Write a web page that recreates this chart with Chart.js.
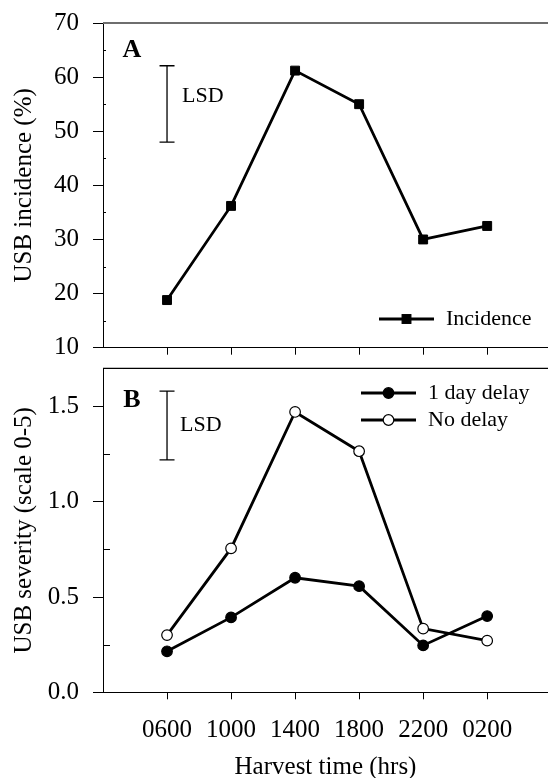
<!DOCTYPE html>
<html>
<head>
<meta charset="utf-8">
<script src="https://cdn.jsdelivr.net/npm/chart.js@4.4.0/dist/chart.umd.min.js"></script>
<style>
  html, body { margin: 0; padding: 0; background: #fff; overflow: hidden; }
  #wrap { position: relative; width: 548px; height: 778px; }
  canvas { position: absolute; left: 0; }
  #chartA { top: 0; }
  #chartB { top: 360px; }
</style>
</head>
<body>
<div id="wrap">
  <canvas id="chartA" width="548" height="360"></canvas>
  <canvas id="chartB" width="548" height="418"></canvas>
</div>
<script>
// Harvest time categories and measured values
const harvestTimes = ['0600', '1000', '1400', '1800', '2200', '0200'];
const incidence = [18.8, 36.2, 61.2, 55.0, 30.0, 32.5];
const severityDelay = [0.215, 0.393, 0.601, 0.557, 0.246, 0.40];
const severityNoDelay = [0.30, 0.755, 1.471, 1.265, 0.334, 0.271];

// Least significant difference bars (low, high)
const lsdIncidence = [48.0, 62.1];
const lsdSeverity = [1.22, 1.58];

// Axis ticks
const incidenceTicks = [10, 20, 30, 40, 50, 60, 70];
const incidenceMinor = [15, 25, 35, 45, 55, 65];
const severityTicks = [0, 0.5, 1.0, 1.5];
const severityMinor = [0.25, 0.75, 1.25];

const serif = "'Liberation Serif', 'Times New Roman', serif";

function toXY(values) {
  return values.map((v, i) => ({ x: i, y: v }));
}

// Draws the panel letter, top frame line, inward minor ticks, LSD bar and legend
const panelDecor = {
  id: 'panelDecor',
  afterDraw(chart, args, opts) {
    const { ctx, chartArea: area, scales } = chart;
    const xs = scales.x, ys = scales.y;
    ctx.save();

    // top frame line
    ctx.strokeStyle = opts.topColor;
    ctx.lineWidth = opts.topWidth;
    ctx.beginPath();
    ctx.moveTo(area.left, area.top);
    ctx.lineTo(area.right, area.top);
    ctx.stroke();

    // inward minor ticks
    ctx.strokeStyle = '#000';
    ctx.lineWidth = 1;
    opts.minor.forEach(v => {
      const y = Math.round(ys.getPixelForValue(v)) + 0.5;
      ctx.beginPath();
      ctx.moveTo(area.left, y);
      ctx.lineTo(area.left + opts.minorLen, y);
      ctx.stroke();
    });

    // panel letter
    ctx.fillStyle = '#000';
    ctx.font = 'bold 26px ' + serif;
    ctx.textAlign = 'center';
    ctx.textBaseline = 'middle';
    ctx.fillText(opts.letter, opts.letterX, opts.letterY);

    // LSD bar
    const lx = xs.getPixelForValue(0);
    const y0 = ys.getPixelForValue(opts.lsd[0]);
    const y1 = ys.getPixelForValue(opts.lsd[1]);
    ctx.lineWidth = 1.3;
    ctx.beginPath();
    ctx.moveTo(lx, y0); ctx.lineTo(lx, y1);
    ctx.moveTo(lx - 7.5, y0); ctx.lineTo(lx + 7.5, y0);
    ctx.moveTo(lx - 7.5, y1); ctx.lineTo(lx + 7.5, y1);
    ctx.stroke();
    ctx.font = '22px ' + serif;
    ctx.textAlign = 'left';
    ctx.fillText('LSD', lx + opts.lsdTextDx, (y0 + y1) / 2 + opts.lsdTextDy);

    // legend: line with marker, then label
    chart.data.datasets.forEach((ds, i) => {
      const y = opts.legendY + i * opts.legendGap;
      const x0 = opts.legendX, x1 = x0 + 55, xm = (x0 + x1) / 2;
      ctx.strokeStyle = ds.borderColor;
      ctx.lineWidth = ds.borderWidth;
      ctx.beginPath();
      ctx.moveTo(x0, y); ctx.lineTo(x1, y);
      ctx.stroke();
      ctx.fillStyle = ds.pointBackgroundColor;
      ctx.strokeStyle = ds.pointBorderColor;
      ctx.lineWidth = ds.pointBorderWidth;
      if (ds.pointStyle === 'rect') {
        const s = ds.pointRadius * Math.SQRT1_2;
        ctx.fillRect(xm - s, y - s, 2 * s, 2 * s);
        ctx.strokeRect(xm - s, y - s, 2 * s, 2 * s);
      } else {
        ctx.beginPath();
        ctx.arc(xm, y, ds.pointRadius, 0, Math.PI * 2);
        ctx.fill();
        ctx.stroke();
      }
      ctx.fillStyle = '#000';
      ctx.font = '22px ' + serif;
      ctx.textAlign = 'left';
      ctx.textBaseline = 'middle';
      ctx.fillText(ds.label, x1 + 12, y);
    });

    ctx.restore();
  }
};

function xAxis(showLabels, height) {
  return {
    type: 'linear',
    min: -1,
    max: 5.95,
    afterBuildTicks: s => { s.ticks = harvestTimes.map((_, i) => ({ value: i })); },
    afterFit: s => {
      s.height = height;
      s.paddingLeft = 0;
      s.paddingRight = 0;
    },
    grid: { drawOnChartArea: false, drawTicks: true, tickLength: 7, color: '#000', lineWidth: 1 },
    border: { display: true, color: '#000', width: 1 },
    ticks: {
      display: showLabels,
      padding: 16,
      color: '#000',
      maxRotation: 0,
      autoSkip: false,
      font: { family: serif, size: 25 },
      callback: v => harvestTimes[v],
    },
    title: {
      display: showLabels,
      text: 'Harvest time (hrs)',
      color: '#000',
      font: { family: serif, size: 25, lineHeight: 0.88 },
      padding: { top: 0, bottom: 0 },
    },
  };
}

function yAxis(min, max, ticks, label, fmt) {
  return {
    type: 'linear',
    min: min,
    max: max,
    afterBuildTicks: s => { s.ticks = ticks.map(v => ({ value: v })); },
    afterFit: s => {
      s.width = 103;
      s.paddingTop = 0;
      s.paddingBottom = 0;
    },
    grid: { drawOnChartArea: false, drawTicks: true, tickLength: 10, color: '#000', lineWidth: 1 },
    border: { display: true, color: '#000', width: 1 },
    ticks: {
      padding: 14,
      color: '#000',
      font: { family: serif, size: 25 },
      callback: fmt,
    },
    title: {
      display: true,
      text: label,
      color: '#000',
      font: { family: serif, size: 25 },
      padding: { top: 9, bottom: 0 },
    },
  };
}

function baseOptions(padTop) {
  return {
    responsive: false,
    animation: false,
    devicePixelRatio: 1,
    layout: { autoPadding: false, padding: { top: padTop, right: 0, bottom: 0, left: 0 } },
    plugins: { legend: { display: false }, tooltip: { enabled: false } },
  };
}

// Panel A: incidence
const optsA = baseOptions(23);
optsA.scales = {
  x: xAxis(false, 12.3),
  y: yAxis(10, 70, incidenceTicks, 'USB incidence (%)', v => String(v)),
};
optsA.plugins.panelDecor = {
  letter: 'A', letterX: 132, letterY: 50,
  topColor: '#6e6e6e', topWidth: 2,
  minor: incidenceMinor, minorLen: 3,
  lsd: lsdIncidence, lsdTextDx: 15, lsdTextDy: -8,
  legendX: 379, legendY: 319, legendGap: 27,
};

new Chart(document.getElementById('chartA'), {
  type: 'line',
  data: {
    datasets: [{
      label: 'Incidence',
      data: toXY(incidence),
      borderColor: '#000',
      borderWidth: 2.8,
      pointStyle: 'rect',
      pointRadius: 6.3,
      pointBackgroundColor: '#000',
      pointBorderColor: '#000',
      pointBorderWidth: 1,
      tension: 0,
    }],
  },
  options: optsA,
  plugins: [panelDecor],
});

// Panel B: severity
const optsB = baseOptions(8.3);
optsB.scales = {
  x: xAxis(true, 85.7),
  y: yAxis(0, 1.7, severityTicks, 'USB severity (scale 0-5)', v => v.toFixed(1)),
};
optsB.plugins.panelDecor = {
  letter: 'B', letterX: 132, letterY: 40,
  topColor: '#000', topWidth: 1.2,
  minor: severityMinor, minorLen: 7,
  lsd: lsdSeverity, lsdTextDx: 13, lsdTextDy: 0,
  legendX: 361, legendY: 33, legendGap: 27,
};

new Chart(document.getElementById('chartB'), {
  type: 'line',
  data: {
    datasets: [{
      label: '1 day delay',
      data: toXY(severityDelay),
      borderColor: '#000',
      borderWidth: 2.8,
      pointStyle: 'circle',
      pointRadius: 5.3,
      pointBackgroundColor: '#000',
      pointBorderColor: '#000',
      pointBorderWidth: 1.2,
      tension: 0,
    }, {
      label: 'No delay',
      data: toXY(severityNoDelay),
      borderColor: '#000',
      borderWidth: 2.8,
      pointStyle: 'circle',
      pointRadius: 5.3,
      pointBackgroundColor: '#fff',
      pointBorderColor: '#000',
      pointBorderWidth: 1.2,
      tension: 0,
    }],
  },
  options: optsB,
  plugins: [panelDecor],
});
</script>
</body>
</html>
